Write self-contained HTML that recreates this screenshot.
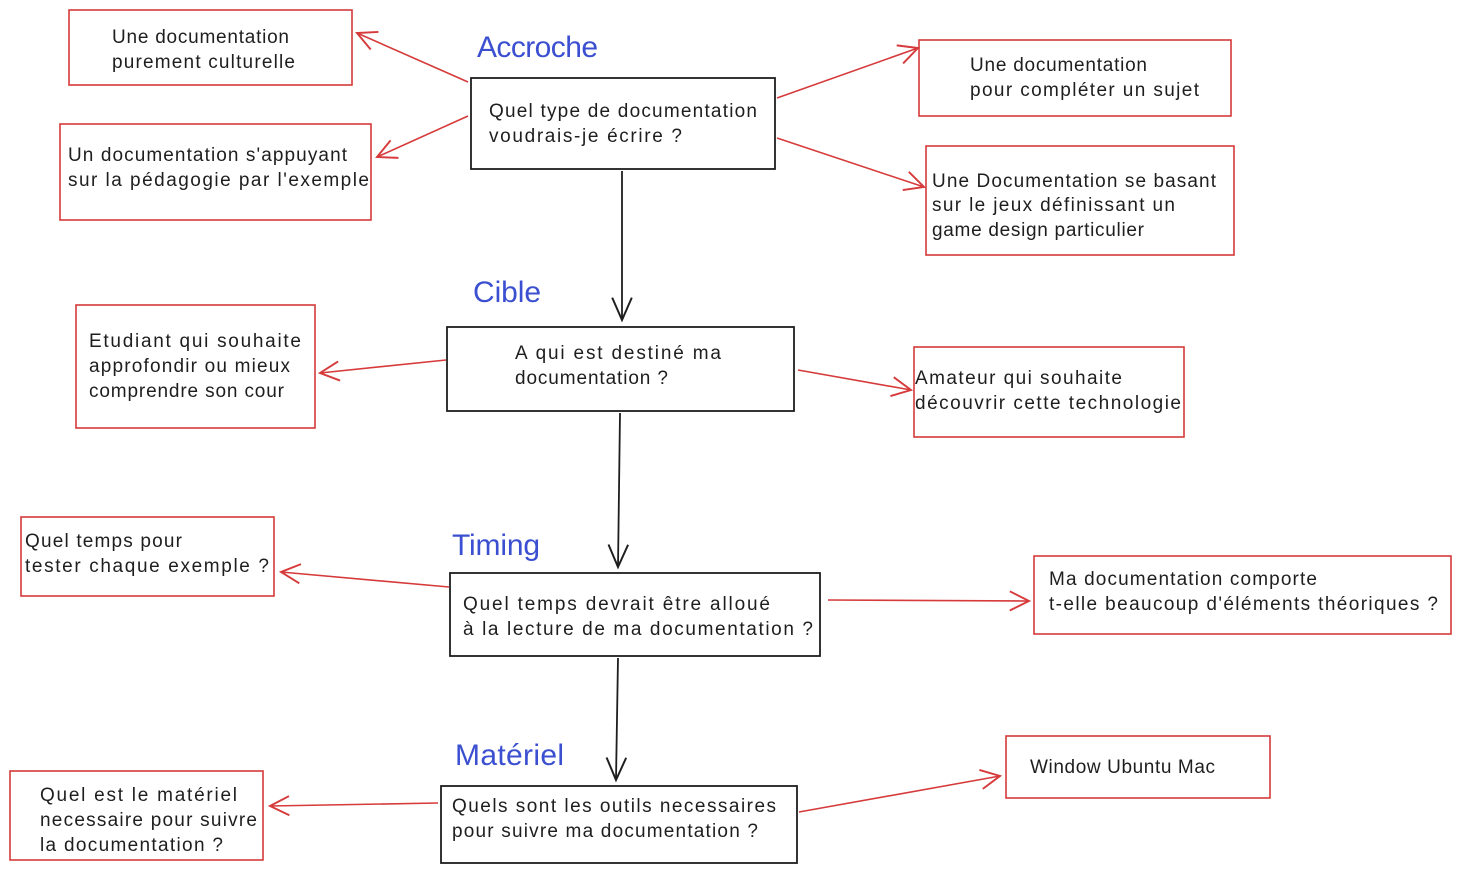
<!DOCTYPE html>
<html><head><meta charset="utf-8"><style>
html,body{margin:0;padding:0;background:#fff;}
svg{display:block;}
text{font-family:"Liberation Sans",sans-serif;font-size:19px;fill:#1e1e1e;}
.b{fill:#3b4fd1;font-size:30px;}
.r{fill:none;stroke:#d63a3a;stroke-width:1.6;}
.k{fill:none;stroke:#1e1e1e;stroke-width:1.8;}
</style></head><body>
<svg width="1461" height="873" viewBox="0 0 1461 873">
<defs>
<marker id="ar" viewBox="0 0 20 20" refX="18" refY="10" markerWidth="24" markerHeight="24" markerUnits="userSpaceOnUse" orient="auto"><path d="M2,2 L18,10 L2,18" fill="none" stroke="#d63a3a" stroke-width="1.6"/></marker>
<marker id="ak" viewBox="0 0 20 20" refX="18" refY="10" markerWidth="28" markerHeight="28" markerUnits="userSpaceOnUse" orient="auto"><path d="M2,3 L18,10 L2,17" fill="none" stroke="#1e1e1e" stroke-width="1.4"/></marker>
</defs>
<rect class="r" x="69" y="10" width="283" height="75"/>
<rect class="r" x="60" y="124" width="311" height="96"/>
<rect class="r" x="919" y="40" width="312" height="76"/>
<rect class="r" x="926" y="146" width="308" height="109"/>
<rect class="r" x="76" y="305" width="239" height="123"/>
<rect class="r" x="914" y="347" width="270" height="90"/>
<rect class="r" x="21" y="517" width="253" height="79"/>
<rect class="r" x="1034" y="556" width="417" height="78"/>
<rect class="r" x="10" y="771" width="253" height="89"/>
<rect class="r" x="1006" y="736" width="264" height="62"/>
<rect class="k" x="471" y="78" width="304" height="91"/>
<rect class="k" x="447" y="327" width="347" height="84"/>
<rect class="k" x="450" y="573" width="370" height="83"/>
<rect class="k" x="441" y="786" width="356" height="77"/>
<line class="r" x1="468" y1="82" x2="357" y2="33" marker-end="url(#ar)"/>
<line class="r" x1="468" y1="116" x2="377" y2="157" marker-end="url(#ar)"/>
<line class="r" x1="777" y1="98" x2="918" y2="48" marker-end="url(#ar)"/>
<line class="r" x1="777" y1="138" x2="924" y2="187" marker-end="url(#ar)"/>
<line class="r" x1="446" y1="360" x2="320" y2="373" marker-end="url(#ar)"/>
<line class="r" x1="798" y1="370" x2="911" y2="390" marker-end="url(#ar)"/>
<line class="r" x1="449" y1="587" x2="281" y2="572" marker-end="url(#ar)"/>
<line class="r" x1="828" y1="600" x2="1029" y2="601" marker-end="url(#ar)"/>
<line class="r" x1="438" y1="803" x2="270" y2="806" marker-end="url(#ar)"/>
<line class="r" x1="799" y1="812" x2="1000" y2="776" marker-end="url(#ar)"/>
<line class="k" x1="622" y1="171" x2="622" y2="320" stroke-width="1.5" marker-end="url(#ak)"/>
<line class="k" x1="620" y1="413" x2="618" y2="567" stroke-width="1.5" marker-end="url(#ak)"/>
<line class="k" x1="618" y1="658" x2="616" y2="780" stroke-width="1.5" marker-end="url(#ak)"/>
<text class="b" x="477" y="57" textLength="121">Accroche</text>
<text class="b" x="473" y="302" textLength="68">Cible</text>
<text class="b" x="452" y="555" textLength="88">Timing</text>
<text class="b" x="455" y="765" textLength="109">Matériel</text>
<text x="112" y="43" textLength="177">Une documentation</text>
<text x="112" y="68" textLength="183">purement culturelle</text>
<text x="68" y="161" textLength="279">Un documentation s'appuyant</text>
<text x="68" y="186" textLength="301">sur la pédagogie par l'exemple</text>
<text x="489" y="117" textLength="268">Quel type de documentation</text>
<text x="489" y="142" textLength="193">voudrais-je écrire ?</text>
<text x="970" y="71" textLength="177">Une documentation</text>
<text x="970" y="96" textLength="229">pour compléter un sujet</text>
<text x="932" y="187" textLength="284">Une Documentation se basant</text>
<text x="932" y="211" textLength="243">sur le jeux définissant un</text>
<text x="932" y="236" textLength="212">game design particulier</text>
<text x="515" y="359" textLength="206">A qui est destiné ma</text>
<text x="515" y="384" textLength="153">documentation ?</text>
<text x="89" y="347" textLength="212">Etudiant qui souhaite</text>
<text x="89" y="372" textLength="201">approfondir ou mieux</text>
<text x="89" y="397" textLength="195">comprendre son cour</text>
<text x="915" y="384" textLength="207">Amateur qui souhaite</text>
<text x="915" y="409" textLength="266">découvrir cette technologie</text>
<text x="463" y="610" textLength="307">Quel temps devrait être alloué</text>
<text x="463" y="635" textLength="350">à la lecture de ma documentation ?</text>
<text x="25" y="547" textLength="157">Quel temps pour</text>
<text x="25" y="572" textLength="244">tester chaque exemple ?</text>
<text x="1049" y="585" textLength="268">Ma documentation comporte</text>
<text x="1049" y="610" textLength="389">t-elle beaucoup d'éléments théoriques ?</text>
<text x="452" y="812" textLength="324">Quels sont les outils necessaires</text>
<text x="452" y="837" textLength="306">pour suivre ma documentation ?</text>
<text x="40" y="801" textLength="197">Quel est le matériel</text>
<text x="40" y="826" textLength="217">necessaire pour suivre</text>
<text x="40" y="851" textLength="183">la documentation ?</text>
<text x="1030" y="773" textLength="185">Window Ubuntu Mac</text>
</svg>
</body></html>
